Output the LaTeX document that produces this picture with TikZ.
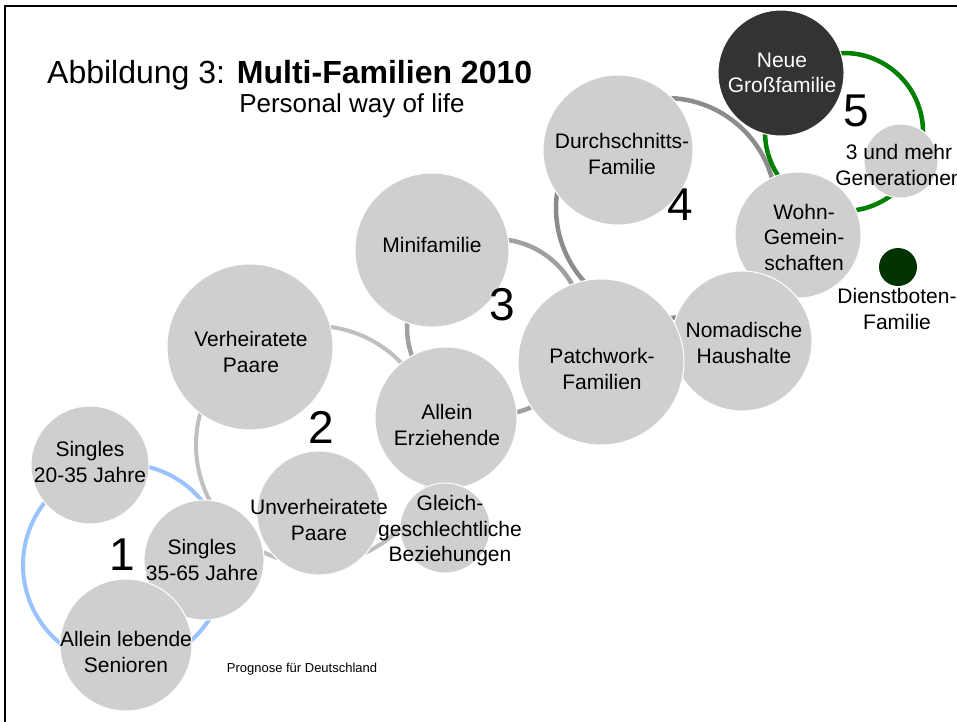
\documentclass[tikz,border=0pt]{standalone}
\usepackage{fontspec}
\setmainfont{Liberation Sans}
\definecolor{bubfill}{RGB}{207,207,207}
\definecolor{darkbub}{RGB}{51,51,51}
\definecolor{ringA}{RGB}{153,194,255}
\definecolor{ringB}{RGB}{191,191,191}
\definecolor{ringC}{RGB}{160,160,160}
\definecolor{ringD}{RGB}{140,140,140}
\definecolor{ringE}{RGB}{0,128,0}
\definecolor{dotgreen}{RGB}{0,51,0}
\begin{document}
\begin{tikzpicture}[x=1pt,y=-1pt,
  bub/.style={circle,fill=bubfill,draw=white,line width=1pt,inner sep=0pt},
  ringsty/.style={circle,draw,line width=4.5pt,inner sep=0pt,fill=none},
  lbl/.style={align=center,inner sep=0pt,font=\fontsize{21}{25.5}\selectfont},
  num/.style={inner sep=0pt,font=\fontsize{46}{46}\selectfont}]
\useasboundingbox (0,0) rectangle (957,721);
\clip (0,0) rectangle (957,721);
\fill[white] (0,0) rectangle (957,721);
\draw[line width=2.5pt] (5,6) rectangle (1000,800);

% rings
\node[ringsty,draw=ringA,line width=4pt,minimum size=202pt] (r1) at (124,565) {};
\node[ringsty,draw=ringB,line width=4pt,minimum size=238pt] (r2) at (315,445) {};
\node[ringsty,draw=ringC,minimum size=176pt] (r3) at (495,327) {};
\node[ringsty,draw=ringD,minimum size=220pt] (r4) at (666,208) {};
\node[ringsty,draw=ringE,minimum size=158pt] (r5) at (844,132) {};

% bubbles
\node[bub,minimum size=166pt] (vp) at (250,347) {};
\node[lbl] (vpT) at (251,352) {Verheiratete\\Paare};
\node[bub,minimum size=124pt] (up) at (319,513) {};
\node[lbl] (upT) at (319,520) {Unverheiratete\\Paare};
\node[bub,minimum size=118pt] (s1) at (90,465) {};
\node[lbl] (s1T) at (90,462) {Singles\\20-35 Jahre};
\node[bub,minimum size=120pt] (s2) at (204,560) {};
\node[lbl] (s2T) at (202,560) {Singles\\35-65 Jahre};
\node[bub,minimum size=132pt] (as) at (126,645) {};
\node[lbl] (asT) at (126,652) {Allein lebende\\Senioren};
\node[bub,minimum size=154pt] (mf) at (432,250) {};
\node[lbl] (mfT) at (432,245) {Minifamilie};
\node[bub,minimum size=142pt] (ae) at (446,418) {};
\node[lbl] (aeT) at (447,425) {Allein\\Erziehende};
\node[bub,minimum size=90pt] (gg) at (445,528) {};
\node[lbl] (ggT) at (450,531) {Gleich-\\geschlechtliche\\Beziehungen};
\node[bub,minimum size=150pt] (df) at (618,150) {};
\node[lbl] (dfT) at (622,154) {Durchschnitts-\\Familie};
\node[bub,minimum size=126pt] (wg) at (798,235) {};
\node[lbl] (wgT) at (804,237) {Wohn-\\Gemein-\\schaften};
\node[bub,minimum size=140pt] (nh) at (742,341) {};
\node[lbl] (nhT) at (744,343) {Nomadische\\Haushalte};
\node[bub,minimum size=166pt] (pf) at (601,362) {};
\node[lbl] (pfT) at (602,369) {Patchwork-\\Familien};
\node[bub,fill=darkbub,minimum size=126pt] (ng) at (781,73) {};
\node[lbl,text=white] (ngT) at (782,73) {Neue\\Großfamilie};
\node[bub,minimum size=74pt] (gen) at (901,161) {};
\node[lbl] (genT) at (899,165) {3 und mehr\\Generationen};
\node[circle,fill=dotgreen,inner sep=0pt,minimum size=38pt] (dot) at (898,267) {};
\node[lbl] (dotT) at (897,309) {Dienstboten-\\Familie};

% numbers
\node[num] (n1) at (122,555) {1};
\node[num] (n2) at (321,427) {2};
\node[num] (n3) at (502,305) {3};
\node[num] (n4) at (680,205) {4};
\node[num] (n5) at (856,111) {5};

% titles
\node[anchor=base west,inner sep=0pt,font=\fontsize{32}{36}\selectfont] (title) at (47,83) {Abbildung 3: \textbf{Multi-Familien 2010}};
\node[anchor=base,inner sep=0pt,font=\fontsize{26}{30}\selectfont] (sub) at (352,112) {Personal way of life};
\node[inner sep=0pt,font=\fontsize{13}{15}\selectfont] (prog) at (302,669) {Prognose für Deutschland};
\end{tikzpicture}
\end{document}
